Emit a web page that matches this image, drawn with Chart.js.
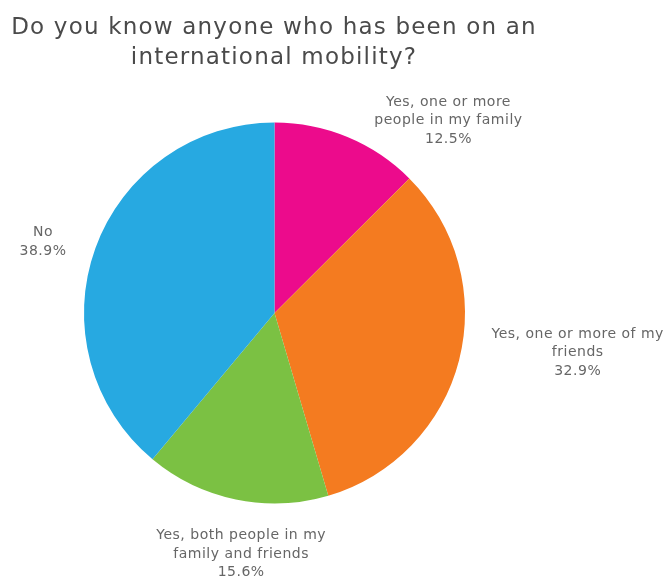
<!DOCTYPE html>
<html>
<head>
<meta charset="utf-8">
<script src="https://cdn.jsdelivr.net/npm/chart.js@4"></script>
<style>
  html, body { margin: 0; padding: 0; background: #fff; }
  #wrap { width: 669px; height: 578px; position: relative; }
</style>
</head>
<body>
<div id="wrap"><canvas id="myChart" width="669" height="578"></canvas></div>
<script>
document.addEventListener('DOMContentLoaded', function () {
    const titleLines = ['Do you know anyone who has been on an', 'international mobility?'];

    const categories = [
        'Yes, one or more people in my family',
        'Yes, one or more of my friends',
        'Yes, both people in my family and friends',
        'No'
    ];
    // how each label wraps in the picture
    const labelLines = [
        ['Yes, one or more', 'people in my family'],
        ['Yes, one or more of my', 'friends'],
        ['Yes, both people in my', 'family and friends'],
        ['No']
    ];
    const shares = [12.5, 32.9, 15.6, 38.9];
    const colors = ['#ec0b8c', '#f47b20', '#7bc143', '#27a9e1'];

    const fontFamily = '"DejaVu Sans", "Open Sans", sans-serif';

    // title + outside labels, drawn after the pie
    const labelPlugin = {
        id: 'outsideLabels',
        afterDraw(chart) {
            const ctx = chart.ctx;
            ctx.save();

            // title
            ctx.fillStyle = '#4a4a4a';
            ctx.font = '23px ' + fontFamily;
            ctx.letterSpacing = '1.2px';
            ctx.textAlign = 'center';
            ctx.textBaseline = 'middle';
            ctx.fillText(titleLines[0], 274, 28);
            ctx.fillText(titleLines[1], 274, 58);

            // slice labels
            const meta = chart.getDatasetMeta(0);
            const lineH = 18.5;
            const nudge = [[5, 0], [0, -12], [9, -1], [3, 0]];
            ctx.font = '14px ' + fontFamily;
            ctx.letterSpacing = '0.5px';
            ctx.fillStyle = '#666666';
            meta.data.forEach(function (arc, i) {
                const p = arc.getProps(['x', 'y', 'startAngle', 'endAngle', 'outerRadius'], true);
                const mid = (p.startAngle + p.endAngle) / 2;
                const r = p.outerRadius + 18;
                const ax = p.x + Math.cos(mid) * r;
                const ay = p.y + Math.sin(mid) * r;
                const lines = labelLines[i].concat([shares[i].toFixed(1) + '%']);
                let w = 0;
                lines.forEach(function (l) { w = Math.max(w, ctx.measureText(l).width); });
                const h = lines.length * lineH;
                const cosA = Math.cos(mid), sinA = Math.sin(mid);
                let cx = ax, cy = ay;
                if (Math.abs(cosA) > 0.3) {
                    cx = ax + Math.sign(cosA) * (w / 2 + 15);
                } else {
                    cy = ay + Math.sign(sinA) * (h / 2 + 10);
                }
                cx += nudge[i][0];
                cy += nudge[i][1];
                lines.forEach(function (l, k) {
                    ctx.fillText(l, cx, cy - h / 2 + lineH * (k + 0.5));
                });
            });
            ctx.restore();
        }
    };

    const ctx = document.getElementById('myChart');

    new Chart(ctx, {
        type: 'pie',
        data: {
            labels: categories,
            datasets: [{
                data: shares,
                backgroundColor: colors,
                borderWidth: 0
            }]
        },
        options: {
            responsive: false,
            animation: false,
            layout: {
                padding: { left: 84, right: 204, top: 122, bottom: 74 }
            },
            plugins: {
                legend: { display: false },
                title: { display: false },
                tooltip: { enabled: false }
            }
        },
        plugins: [labelPlugin]
    });
});
</script>
</body>
</html>
